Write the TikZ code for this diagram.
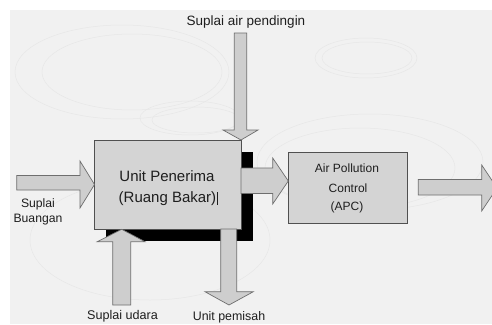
\documentclass[tikz,border=0pt]{standalone}
\usepackage{fontspec}
\setmainfont{Liberation Sans}
\begin{document}
\begin{tikzpicture}[x=1pt,y=-1pt,
  blockarrow/.style={fill=arrowgray,draw=edgegray,line width=0.7pt,line join=miter},
  unitbox/.style={fill=boxgray,draw=boxedge,line width=0.8pt},
  lbl/.style={text=txt,inner sep=0pt,align=center},
  faint/.style={draw=faintgray,line width=0.5pt}]
\definecolor{bggray}{RGB}{241,241,241}
\definecolor{boxgray}{RGB}{212,212,212}
\definecolor{arrowgray}{RGB}{206,206,206}
\definecolor{edgegray}{RGB}{110,110,110}
\definecolor{boxedge}{RGB}{80,80,80}
\definecolor{txt}{RGB}{30,30,30}
\definecolor{faintgray}{RGB}{231,231,231}
\useasboundingbox (0,0) rectangle (492,324);
\fill[white] (0,0) rectangle (492,324);
\fill[bggray] (10,10) rectangle (492,324);
% faint background ellipses
\begin{scope}
\clip (10,10) rectangle (492,324);
\draw[faint] (122,72) ellipse [x radius=107, y radius=47];
\draw[faint] (132,72) ellipse [x radius=90, y radius=38];
\draw[faint] (190,118) ellipse [x radius=50, y radius=17];
\draw[faint] (196,120) ellipse [x radius=44, y radius=13];
\draw[faint] (366,58) ellipse [x radius=51, y radius=20];
\draw[faint] (367,58) ellipse [x radius=45, y radius=16];
\draw[faint] (370,162) ellipse [x radius=113, y radius=48];
\draw[faint] (360,168) ellipse [x radius=95, y radius=40];
\draw[faint] (150,240) ellipse [x radius=120, y radius=60];
\end{scope}
% shadow and main unit
\fill[black] (106,152) rectangle (253,241);
\node[unitbox,minimum width=147pt,minimum height=89pt,anchor=north west,inner sep=0pt] (unit) at (94,140) {};
\node[lbl,font=\fontsize{15}{18}\selectfont] (t1) at (167,176) {Unit Penerima};
\node[lbl,font=\fontsize{15}{18}\selectfont] (t2) at (168,199) {(Ruang Bakar)\kern0.5pt\rule[-2pt]{0.6pt}{13pt}};
% APC box
\node[unitbox,minimum width=119pt,minimum height=71pt,anchor=north west,inner sep=0pt] (apc) at (288,152) {};
\node[lbl,font=\fontsize{12}{14}\selectfont] (a1) at (347,168) {Air Pollution};
\node[lbl,font=\fontsize{12}{14}\selectfont] (a2) at (348,188) {Control};
\node[lbl,font=\fontsize{12}{14}\selectfont] (a3) at (347,207) {(APC)};
% top arrow: Suplai air pendingin -> unit
\coordinate (topstart) at (240.5,33);
\coordinate (toptip) at (241,140);
\draw[blockarrow] (234.3,33) -- (246.7,33) -- (246.7,130) -- (258,130) -- (toptip) -- (223,130) -- (234.3,130) -- cycle;
\node[lbl,font=\fontsize{13.5}{16}\selectfont] (lpend) at (246,22) {Suplai air pendingin};
% left arrow: Suplai Buangan -> unit
\draw[blockarrow] (16.7,175.5) -- (80,175.5) -- (80,161) -- (94.5,184.5) -- (80,208) -- (80,190) -- (16.7,190) -- cycle;
\node[lbl,font=\fontsize{12.2}{15}\selectfont] (lbuang) at (38,212) {Suplai\\Buangan};
% right arrow: unit -> APC
\draw[blockarrow] (241,168) -- (272.7,168) -- (272.7,158) -- (288.3,181) -- (272.7,204) -- (272.7,193.5) -- (241,193.5) -- cycle;
% down arrow: unit -> Unit pemisah
\draw[blockarrow] (220.7,229) -- (236.7,229) -- (236.7,291.7) -- (253.3,291.7) -- (229,305) -- (205,291.7) -- (220.7,291.7) -- cycle;
\node[lbl,font=\fontsize{12.4}{15}\selectfont] (lpemisah) at (229,317) {Unit pemisah};
% up arrow: Suplai udara -> unit
\draw[blockarrow] (112.7,305) -- (130.7,305) -- (130.7,241.7) -- (145,241.7) -- (121.7,229.3) -- (97.3,241.7) -- (112.7,241.7) -- cycle;
\node[lbl,font=\fontsize{12.6}{15}\selectfont] (ludara) at (122.5,316) {Suplai udara};
% output arrow from APC
\begin{scope}
\clip (10,10) rectangle (492,324);
\draw[blockarrow] (418.3,179.5) -- (481.7,179.5) -- (481.7,165) -- (497,188) -- (481.7,211) -- (481.7,195) -- (418.3,195) -- cycle;
\end{scope}
\end{tikzpicture}
\end{document}
